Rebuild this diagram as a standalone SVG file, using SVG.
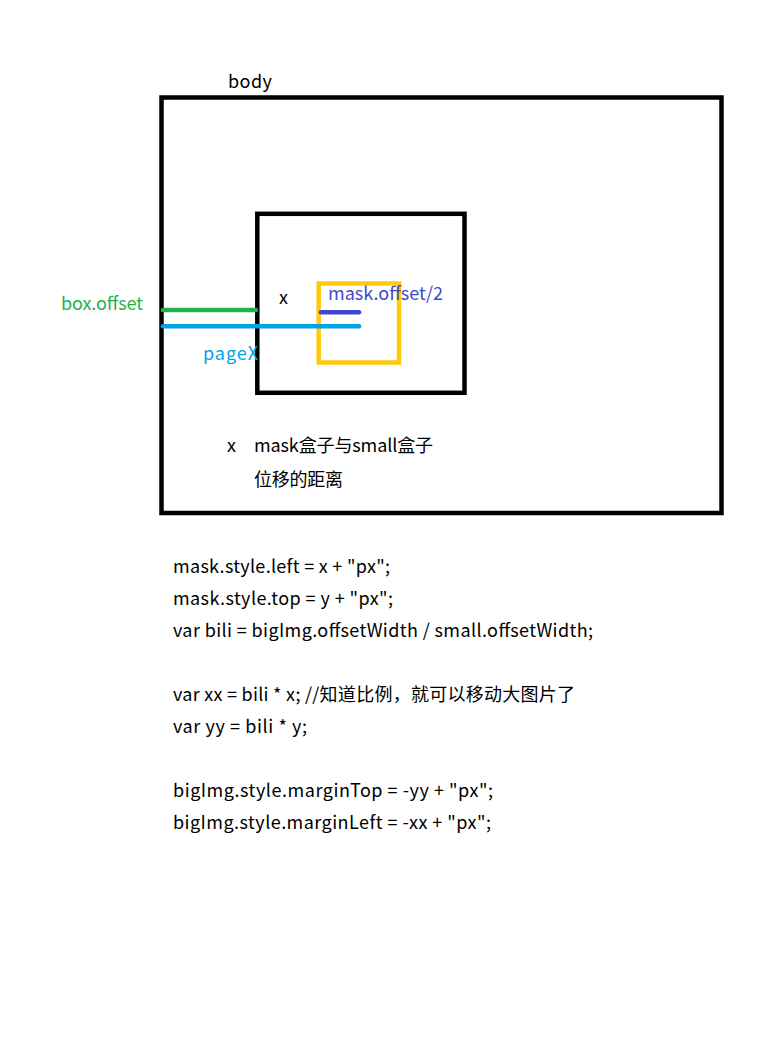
<svg xmlns="http://www.w3.org/2000/svg" width="778" height="1037" viewBox="0 0 778 1037">
<style>
text{font-family:"Noto Sans CJK SC","Noto Sans",sans-serif;font-size:18px;fill:#000}
.box{fill:none;stroke:#000;stroke-width:4.5}
.ln{stroke-width:4.5;stroke-linecap:round;fill:none}
</style>
<rect width="778" height="1037" fill="#fff"/>
<g id="body">
<rect class="box" x="161.5" y="97.5" width="560" height="415.5"/>
<text x="228" y="88" textLength="44">body</text>
</g>
<g id="small">
<rect class="box" x="257.3" y="213.8" width="207.2" height="179"/>
<text x="279" y="304">x</text>
</g>
<g id="mask">
<rect x="318.7" y="283.5" width="80.3" height="79" fill="none" stroke="#ffc90e" stroke-width="4.5"/>
</g>
<g id="connectors">
<line class="ln" x1="163" y1="310" x2="256" y2="310" stroke="#22b14c"/>
<line class="ln" x1="163" y1="326.3" x2="359" y2="326.3" stroke="#00a2e8"/>
<line class="ln" x1="321" y1="312.3" x2="359" y2="312.3" stroke="#3f48cc"/>
</g>
<g id="labels">
<text x="61" y="310" textLength="82" style="fill:#22b14c">box.offset</text>
<text x="203" y="360" textLength="55" style="fill:#00a2e8">pageX</text>
<text x="328" y="300" textLength="115" style="fill:#3f48cc">mask.offset/2</text>
<text x="227" y="452">x</text>
<text x="254" y="452" textLength="179">mask盒子与small盒子</text>
<text x="254" y="486" textLength="89">位移的距离</text>
</g>
<g id="code">
<text x="173" y="573" textLength="217">mask.style.left = x + "px";</text>
<text x="173" y="605" textLength="220">mask.style.top = y + "px";</text>
<text x="173" y="637" textLength="420">var bili = bigImg.offsetWidth / small.offsetWidth;</text>
<text x="173" y="701" textLength="402">var xx = bili * x; //知道比例，就可以移动大图片了</text>
<text x="173" y="733" textLength="134">var yy = bili * y;</text>
<text x="173" y="797" textLength="320">bigImg.style.marginTop = -yy + "px";</text>
<text x="173" y="829" textLength="318">bigImg.style.marginLeft = -xx + "px";</text>
</g>
</svg>
